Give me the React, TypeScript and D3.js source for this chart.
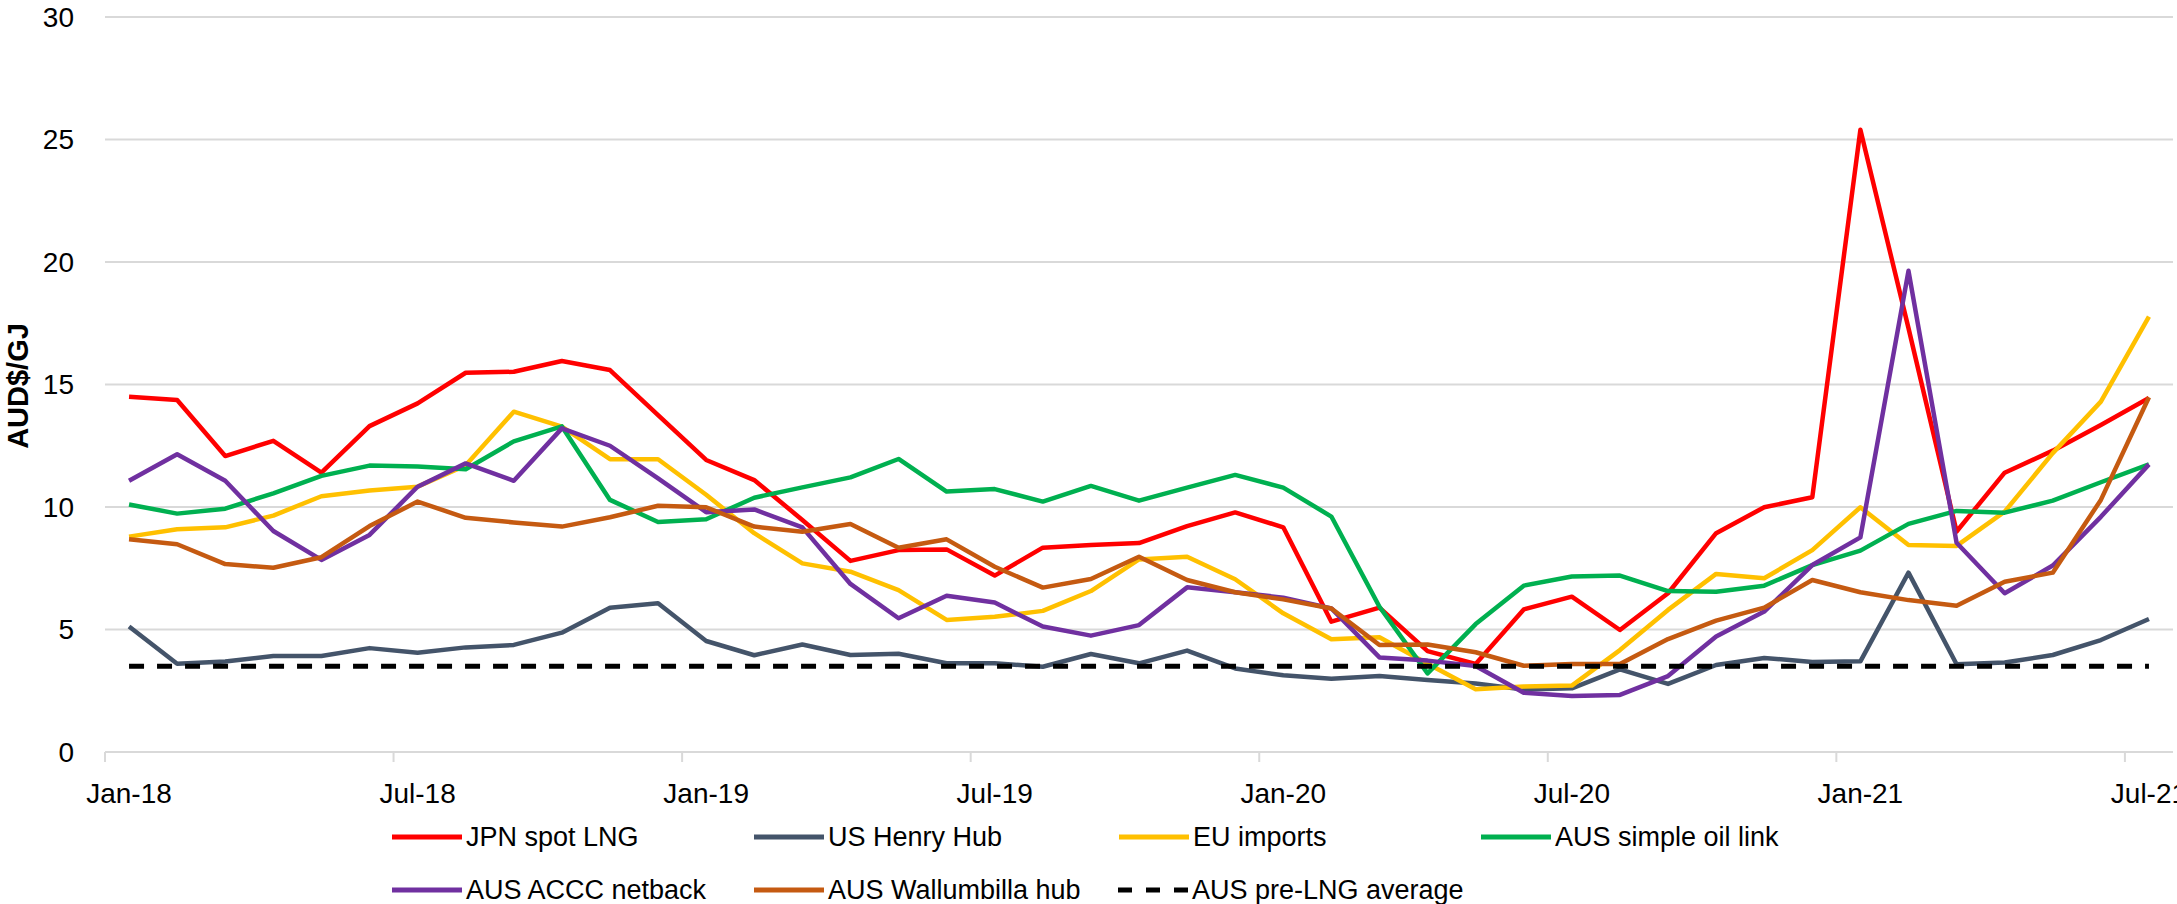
import * as d3 from "d3";

const months = [
  "Jan-18", "Feb-18", "Mar-18", "Apr-18", "May-18", "Jun-18", "Jul-18", "Aug-18", "Sep-18", "Oct-18", "Nov-18", "Dec-18",
  "Jan-19", "Feb-19", "Mar-19", "Apr-19", "May-19", "Jun-19", "Jul-19", "Aug-19", "Sep-19", "Oct-19", "Nov-19", "Dec-19",
  "Jan-20", "Feb-20", "Mar-20", "Apr-20", "May-20", "Jun-20", "Jul-20", "Aug-20", "Sep-20", "Oct-20", "Nov-20", "Dec-20",
  "Jan-21", "Feb-21", "Mar-21", "Apr-21", "May-21", "Jun-21", "Jul-21",
];

const tickLabels = ["Jan-18", "Jul-18", "Jan-19", "Jul-19", "Jan-20", "Jul-20", "Jan-21", "Jul-21"];
const yTicks = [0, 5, 10, 15, 20, 25, 30];

const jpnSpot = [
  14.5, 14.37, 12.08, 12.7, 11.4, 13.3, 14.23, 15.48, 15.52, 15.96, 15.59, 13.75,
  11.92, 11.1, 9.47, 7.8, 8.24, 8.27, 7.2, 8.34, 8.45, 8.53, 9.22, 9.78,
  9.17, 5.32, 5.89, 4.12, 3.59, 5.82, 6.34, 4.98, 6.48, 8.93, 9.99, 10.4,
  25.4, 17.3, 9.0, 11.4, 12.3, 13.35, 14.45,
];
const usHenryHub = [
  5.12, 3.6, 3.69, 3.92, 3.92, 4.24, 4.05, 4.27, 4.37, 4.87, 5.89, 6.07,
  4.53, 3.95, 4.39, 3.96, 4.01, 3.62, 3.62, 3.48, 4.0, 3.62, 4.14, 3.41,
  3.13, 2.99, 3.1, 2.94, 2.8, 2.55, 2.6, 3.37, 2.78, 3.55, 3.84, 3.67,
  3.7, 7.32, 3.58, 3.65, 3.96, 4.57, 5.43,
];
const euImports = [
  8.79, 9.09, 9.17, 9.65, 10.44, 10.67, 10.83, 11.7, 13.89, 13.28, 11.95, 11.95,
  10.5, 8.93, 7.7, 7.36, 6.61, 5.39, 5.52, 5.76, 6.57, 7.86, 7.97, 7.05,
  5.66, 4.6, 4.68, 3.6, 2.56, 2.67, 2.71, 4.16, 5.8, 7.27, 7.09, 8.24,
  9.99, 8.45, 8.41, 9.81, 12.2, 14.3, 17.77,
];
const ausOilLink = [
  10.1, 9.73, 9.93, 10.56, 11.27, 11.69, 11.65, 11.54, 12.68, 13.29, 10.29, 9.39,
  9.5, 10.38, 10.8, 11.21, 11.96, 10.63, 10.73, 10.22, 10.86, 10.26, 10.79, 11.31,
  10.79, 9.61, 5.93, 3.21, 5.22, 6.79, 7.16, 7.2, 6.57, 6.54, 6.79, 7.63,
  8.22, 9.31, 9.84, 9.77, 10.26, 11.01, 11.74,
];
const ausNetback = [
  11.07, 12.15, 11.07, 9.02, 7.84, 8.86, 10.83, 11.78, 11.07, 13.21, 12.5, 11.17,
  9.79, 9.9, 9.17, 6.86, 5.46, 6.38, 6.1, 5.12, 4.75, 5.18, 6.72, 6.52,
  6.3, 5.86, 3.86, 3.73, 3.51, 2.42, 2.29, 2.33, 3.1, 4.71, 5.73, 7.63,
  8.76, 19.64, 8.54, 6.48, 7.61, 9.6, 11.74,
];
const ausWallumbilla = [
  8.68, 8.48, 7.67, 7.52, 7.95, 9.22, 10.22, 9.56, 9.37, 9.2, 9.58, 10.05,
  9.99, 9.2, 8.99, 9.31, 8.34, 8.68, 7.56, 6.71, 7.06, 7.97, 7.02, 6.52,
  6.23, 5.86, 4.37, 4.39, 4.07, 3.52, 3.59, 3.59, 4.61, 5.36, 5.89, 7.02,
  6.52, 6.2, 5.97, 6.95, 7.32, 10.29, 14.48,
];
const preLngAverage = 3.5;

const seriesNames = [
  "JPN spot LNG", "US Henry Hub", "EU imports", "AUS simple oil link",
  "AUS ACCC netback", "AUS Wallumbilla hub",
];
const seriesColors = ["#ff0000", "#44546a", "#ffc000", "#00b050", "#7030a0", "#c55a11"];
const seriesValues = [jpnSpot, usHenryHub, euImports, ausOilLink, ausNetback, ausWallumbilla];

const W = 2177;
const H = 904;
const font = "'Liberation Sans', Arial, sans-serif";

export default function App() {
  const x = d3.scaleBand<string>().domain(months).range([105, 2173]).padding(0);
  const y = d3.scaleLinear().domain([0, 30]).range([752, 17]);
  const cx = (m: string) => (x(m) ?? 0) + x.bandwidth() / 2;

  const line = d3
    .line<number>()
    .x((_, i) => cx(months[i]))
    .y((d) => y(d));

  const tickIdx = d3.range(0, months.length + 1, 6);

  const legendRows = [
    [
      { name: seriesNames[0], color: seriesColors[0], x: 392 },
      { name: seriesNames[1], color: seriesColors[1], x: 754 },
      { name: seriesNames[2], color: seriesColors[2], x: 1119 },
      { name: seriesNames[3], color: seriesColors[3], x: 1481 },
    ],
    [
      { name: seriesNames[4], color: seriesColors[4], x: 392 },
      { name: seriesNames[5], color: seriesColors[5], x: 754 },
      { name: "AUS pre-LNG average", color: "#000", x: 1118, dashed: true },
    ],
  ];

  return (
    <svg width={W} height={H} style={{ position: "absolute", left: 0, top: 0, background: "#fff" }}>
      {/* gridlines */}
      {yTicks.map((t) => (
        <line key={t} x1={105} x2={2173} y1={y(t)} y2={y(t)} stroke="#d9d9d9" strokeWidth={2} />
      ))}
      {/* category ticks */}
      {tickIdx.map((i) => {
        const px = i < months.length ? x(months[i])! : 2173;
        return <line key={i} x1={px} x2={px} y1={752} y2={762} stroke="#d9d9d9" strokeWidth={2} />;
      })}
      {yTicks.map((t) => (
        <text key={t} x={74} y={y(t)} dy="0.35em" textAnchor="end" fontFamily={font} fontSize={28} fill="#000">
          {t}
        </text>
      ))}
      {tickLabels.map((m) => (
        <text key={m} x={cx(m)} y={803} textAnchor="middle" fontFamily={font} fontSize={28} fill="#000">
          {m}
        </text>
      ))}
      <text
        transform={`translate(28,386) rotate(-90)`}
        textAnchor="middle"
        fontFamily={font}
        fontWeight="bold"
        fontSize={29}
        fill="#000"
      >
        AUD$/GJ
      </text>

      {seriesValues.map((vals, k) => (
        <path
          key={seriesNames[k]}
          d={line(vals) ?? ""}
          fill="none"
          stroke={seriesColors[k]}
          strokeWidth={4.5}
          strokeLinejoin="round"
        />
      ))}
      <line
        x1={cx(months[0])}
        x2={cx(months[months.length - 1])}
        y1={y(preLngAverage)}
        y2={y(preLngAverage)}
        stroke="#000"
        strokeWidth={5}
        strokeDasharray="15 13"
      />

      {legendRows.map((row, r) =>
        row.map((it) => {
          const ly = r === 0 ? 837 : 890;
          return (
            <g key={it.name}>
              <line
                x1={it.x}
                x2={it.x + 70}
                y1={ly}
                y2={ly}
                stroke={it.color}
                strokeWidth={5}
                strokeDasharray={it.dashed ? "14 14" : undefined}
              />
              <text x={it.x + 74} y={ly + 9} fontFamily={font} fontSize={27} fill="#000">
                {it.name}
              </text>
            </g>
          );
        })
      )}
    </svg>
  );
}
